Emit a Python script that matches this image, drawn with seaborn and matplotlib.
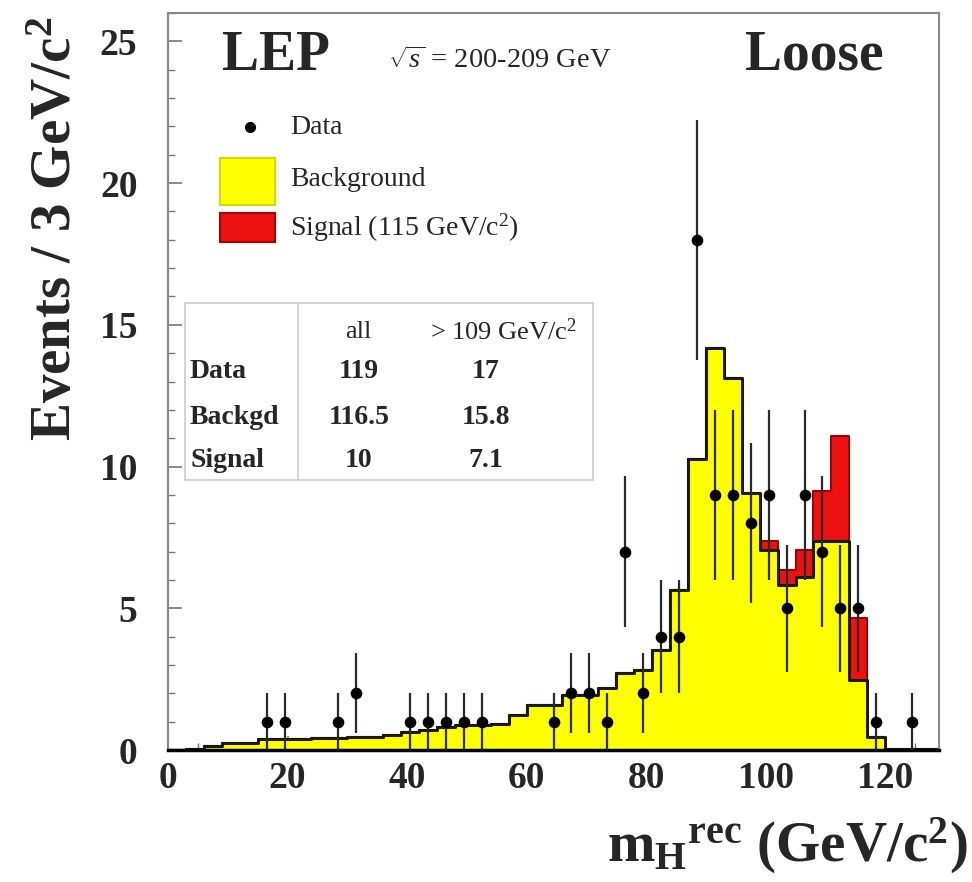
import numpy as np
import pandas as pd
import matplotlib
matplotlib.use("Agg")
import matplotlib.pyplot as plt
import seaborn as sns
from matplotlib.patches import Rectangle
from matplotlib.lines import Line2D

# ---------------- data ----------------
bin_edges = list(range(0, 130, 3))          # 3 GeV bins, 0..129
bin_centers = [e + 1.5 for e in bin_edges[:-1]]

background = [0.0, 0.05, 0.15, 0.25, 0.25, 0.38, 0.38, 0.38, 0.41, 0.41,
              0.47, 0.47, 0.52, 0.64, 0.70, 0.80, 0.88, 0.88, 0.92, 1.23,
              1.58, 1.58, 1.94, 1.94, 2.18, 2.71, 2.82, 3.52, 5.63, 10.28,
              14.19, 13.13, 9.05, 7.04, 5.81, 6.09, 7.39, 7.39, 2.46, 0.47,
              0.05, 0.05, 0.05]
signal = [0.0] * 33 + [0.35, 0.53, 0.95, 1.76, 3.70, 2.19] + [0.0] * 4

data_x = [16.5, 19.5, 28.5, 31.5, 40.5, 43.5, 46.5, 49.5, 52.5, 64.5,
          67.5, 70.5, 73.5, 76.5, 79.5, 82.5, 85.5, 88.5, 91.5, 94.5,
          97.5, 100.5, 103.5, 106.5, 109.5, 112.5, 115.5, 118.5, 124.5]
data_n = [1, 1, 1, 2, 1, 1, 1, 1, 1, 1,
          2, 2, 1, 7, 2, 4, 4, 18, 9, 9,
          8, 9, 5, 9, 7, 5, 5, 1, 1]
data_err = [1, 1, 1, 1.41, 1, 1, 1, 1, 1, 1,
            1.41, 1.41, 1, 2.65, 1.41, 2, 2, 4.24, 3, 3,
            2.83, 3, 2.24, 3, 2.65, 2.24, 2.24, 1, 1]

x_ticks = [0, 20, 40, 60, 80, 100, 120]
y_ticks = [0, 5, 10, 15, 20, 25]

table_cols = ["all", "> 109 GeV/c$^{2}$"]
table_rows = ["Data", "Backgd", "Signal"]
table_all = ["119", "116.5", "10"]
table_cut = ["17", "15.8", "7.1"]

# ---------------- style ----------------
sns.set_theme(style="white")
plt.rcParams["font.family"] = ["Liberation Serif", "DejaVu Serif"]
plt.rcParams["mathtext.fontset"] = "custom"
plt.rcParams["mathtext.rm"] = "Liberation Serif"
plt.rcParams["mathtext.it"] = "Liberation Serif:italic"
plt.rcParams["mathtext.bf"] = "Liberation Serif:bold"

W, H = 972, 882
fig = plt.figure(figsize=(W / 100, H / 100), dpi=100)
ax = fig.add_axes([168 / W, 1 - 750 / H, (939 - 168) / W, (750 - 13) / H])

df = pd.DataFrame({"x": bin_centers,
                   "bkg": background,
                   "tot": [b + s for b, s in zip(background, signal)]})

YELLOW = "#ffff00"
RED = "#ee1111"

# total (signal on top of background) in red
sns.histplot(data=df, x="x", weights="tot", bins=bin_edges, element="step",
             fill=True, color=RED, alpha=1, edgecolor="#a00000",
             linewidth=1.5, ax=ax)
# background in yellow
sns.histplot(data=df, x="x", weights="bkg", bins=bin_edges, element="step",
             fill=True, color=YELLOW, alpha=1, linewidth=0, ax=ax)
# background outline
sns.histplot(data=df, x="x", weights="bkg", bins=bin_edges, element="step",
             fill=False, color="#1a1a00", linewidth=2.2, ax=ax)

# data points
ax.errorbar(data_x, data_n, yerr=data_err, fmt="none", ecolor="#2a2a2a",
            elinewidth=1.6, capsize=0, zorder=5)
sns.scatterplot(x=data_x, y=data_n, color="black", s=70, marker="o",
                edgecolor="black", linewidth=0, zorder=6, ax=ax)

ax.set_xlim(0, 129)
ax.set_ylim(0, 26)
ax.set_xlabel("")
ax.set_ylabel("")
ax.set_xticks(x_ticks)
ax.set_yticks(y_ticks)
ax.set_xticks(range(0, 130, 5), minor=True)
ax.set_yticks(range(0, 27, 1), minor=True)
ax.set_xticklabels([str(t) for t in x_ticks], fontsize=27, fontweight="bold")
ax.set_yticklabels([str(t) for t in y_ticks], fontsize=27, fontweight="bold")
ax.tick_params(axis="both", which="major", direction="in", length=10,
               width=1.2, color="#777777")
ax.tick_params(axis="both", which="minor", direction="in", length=5,
               width=1.0, color="#777777")
ax.tick_params(axis="y", which="both", left=True, right=False)
ax.tick_params(axis="x", which="both", bottom=True, top=False)
ax.tick_params(axis="y", which="major", pad=22)
ax.tick_params(axis="x", which="major", pad=8)
for side in ["left", "top", "right"]:
    ax.spines[side].set_color("#888888")
    ax.spines[side].set_linewidth(1.5)
ax.spines["bottom"].set_color("black")
ax.spines["bottom"].set_linewidth(2.5)

def fx(px):
    return px / W

def fy(py):
    return 1 - py / H

# axis titles
fig.text(fx(57), fy(229), "Events / 3 GeV/c$^{\\mathbf{2}}$", rotation=90,
         ha="center", va="center", fontsize=41, fontweight="bold")
fig.text(fx(968), fy(862),
         r"$\mathbf{m}_{\mathbf{H}}{}^{\mathbf{rec}}$ (GeV/c$^{\mathbf{2}}$)",
         ha="right", va="baseline", fontsize=41, fontweight="bold")

# header texts
fig.text(fx(222), fy(70), "LEP", ha="left", va="baseline", fontsize=40,
         fontweight="bold")
fig.text(fx(745), fy(70), "Loose", ha="left", va="baseline", fontsize=40,
         fontweight="bold")
fig.text(fx(388), fy(68), r"$\sqrt{s}$ = 200-209 GeV", ha="left",
         va="baseline", fontsize=20.5)

# legend
fig.add_artist(Line2D([fx(250)], [fy(127)], marker="o", markersize=7,
                      color="black", linestyle="none"))
fig.text(fx(290), fy(127), "Data", ha="left", va="center", fontsize=20)
fig.add_artist(Rectangle((fx(220), fy(205)), fx(275) - fx(220),
                         fy(158) - fy(205), transform=fig.transFigure,
                         facecolor=YELLOW, edgecolor="#d8d800", lw=1.5))
fig.text(fx(290), fy(180), "Background", ha="left", va="center", fontsize=20)
fig.add_artist(Rectangle((fx(220), fy(242)), fx(275) - fx(220),
                         fy(213) - fy(242), transform=fig.transFigure,
                         facecolor=RED, edgecolor="#b00000", lw=1.5))
fig.text(fx(290), fy(228), "Signal (115 GeV/c$^{2}$)", ha="left",
         va="center", fontsize=20)

# table
grey = "#cccccc"
fig.add_artist(Line2D([fx(185), fx(593)], [fy(303), fy(303)], color=grey, lw=1.2))
fig.add_artist(Line2D([fx(185), fx(593)], [fy(480), fy(480)], color=grey, lw=1.2))
fig.add_artist(Line2D([fx(185), fx(185)], [fy(303), fy(480)], color=grey, lw=1.2))
fig.add_artist(Line2D([fx(593), fx(593)], [fy(303), fy(480)], color=grey, lw=1.2))
fig.add_artist(Line2D([fx(298), fx(298)], [fy(303), fy(480)], color=grey, lw=1.2))

fig.text(fx(358), fy(332), table_cols[0], ha="center", va="center", fontsize=19)
fig.text(fx(503), fy(332), table_cols[1], ha="center", va="center", fontsize=19)
row_y = [372, 417, 461]
for name, a, c, yy in zip(table_rows, table_all, table_cut, row_y):
    fig.text(fx(190), fy(yy), name, ha="left", va="center", fontsize=20,
             fontweight="bold")
    fig.text(fx(359), fy(yy), a, ha="center", va="center", fontsize=20,
             fontweight="bold")
    fig.text(fx(486), fy(yy), c, ha="center", va="center", fontsize=20,
             fontweight="bold")

fig.savefig("out.png", dpi=100)
